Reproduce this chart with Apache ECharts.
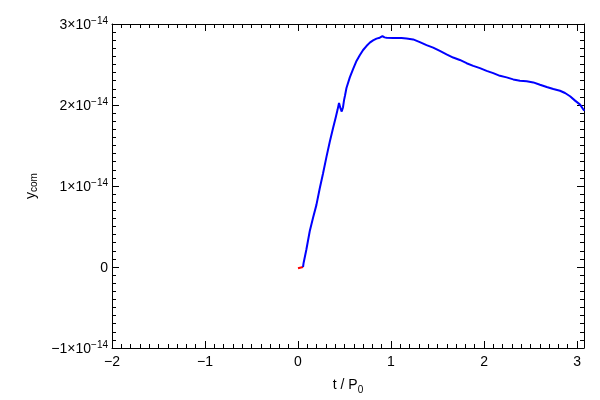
<!DOCTYPE html>
<html>
<head>
<meta charset="utf-8">
<script src="https://cdn.jsdelivr.net/npm/echarts@6/dist/echarts.min.js"></script>
<style>html,body{margin:0;padding:0;background:#fff}#c{width:600px;height:400px}</style>
</head>
<body>
<div id="c"></div>
<script>
// values of y_com are stored in units of 1e-14
const xTicks = [-2, -1, 0, 1, 2, 3];
const yTicks = [-1, 0, 1, 2, 3];
const redT = [0.0, 0.004, 0.054];
const redY = [-0.015, 0.0, 0.0];
const blueT = [0.054, 0.060, 0.090, 0.126, 0.161, 0.198, 0.234, 0.269, 0.306, 0.341, 0.377, 0.406, 0.425, 0.441, 0.456, 0.470, 0.484, 0.495, 0.506, 0.521, 0.557, 0.592, 0.629, 0.664, 0.700, 0.736, 0.772, 0.807, 0.844, 0.879, 0.908, 0.930, 0.952, 1.023, 1.113, 1.167, 1.238, 1.310, 1.382, 1.453, 1.525, 1.597, 1.668, 1.740, 1.813, 1.884, 1.956, 2.028, 2.099, 2.171, 2.243, 2.314, 2.386, 2.459, 2.530, 2.602, 2.674, 2.745, 2.817, 2.871, 2.925, 2.979, 3.033, 3.068, 3.080];
const blueY = [0.0, 0.05, 0.216, 0.441, 0.604, 0.767, 0.972, 1.155, 1.360, 1.544, 1.716, 1.850, 1.940, 2.026, 1.961, 1.919, 1.973, 2.060, 2.120, 2.210, 2.341, 2.442, 2.544, 2.614, 2.679, 2.728, 2.770, 2.798, 2.819, 2.831, 2.850, 2.835, 2.831, 2.826, 2.826, 2.822, 2.810, 2.777, 2.740, 2.708, 2.667, 2.626, 2.586, 2.556, 2.516, 2.483, 2.455, 2.422, 2.393, 2.360, 2.341, 2.316, 2.299, 2.292, 2.279, 2.250, 2.222, 2.197, 2.176, 2.148, 2.108, 2.054, 2.005, 1.944, 1.930];

const redData = redT.map((t, i) => [t, redY[i]]);
const blueData = blueT.map((t, i) => [t, blueY[i]]);

const FONT = '"Liberation Sans", Arial, sans-serif';
function xLabel(v) {
  if (!xTicks.includes(Math.round(v * 1000) / 1000)) return '';
  return v < 0 ? '\u2212' + (-v) : String(v);
}
function yLabel(v) {
  const n = Math.round(v * 1000) / 1000;
  if (!yTicks.includes(n)) return '';
  if (n === 0) return '{m|0}';
  const s = n < 0 ? '\u2212' + (-n) : String(n);
  return '{m|' + s + '\u00d710}{s|\u221214}';
}
const tickBase = { show: true, inside: true, length: 7, lineStyle: { color: '#000', width: 1 } };
const minorBase = { show: true, splitNumber: 10, length: 4, lineStyle: { color: '#000', width: 1 } };
const lineBase = { show: true, onZero: false, lineStyle: { color: '#000', width: 1 } };

const chart = echarts.init(document.getElementById('c'), null, { renderer: 'canvas' });
chart.setOption({
  animation: false,
  backgroundColor: '#fff',
  grid: { left: 112, right: 16, top: 24, bottom: 50, containLabel: false },
  xAxis: [
    {
      type: 'value', position: 'bottom', min: -2, max: 3.075, interval: 1,
      axisLine: lineBase, axisTick: tickBase, minorTick: minorBase, splitLine: { show: false },
      axisLabel: { formatter: xLabel, color: '#000', fontSize: 14, fontFamily: FONT, margin: 7, showMaxLabel: true },
      name: '{a|t / P}{b|0}', nameLocation: 'middle', nameGap: 30,
      nameTextStyle: { rich: { a: { fontSize: 14, fontFamily: FONT, color: '#000', verticalAlign: 'bottom' }, b: { fontSize: 10, fontFamily: FONT, color: '#000', verticalAlign: 'bottom', padding: [0, 0, -3, 0] } } }
    },
    {
      type: 'value', position: 'top', min: -2, max: 3.075, interval: 1,
      axisLine: lineBase, axisTick: tickBase, minorTick: minorBase, splitLine: { show: false },
      axisLabel: { show: false }
    }
  ],
  yAxis: [
    {
      type: 'value', position: 'left', min: -1, max: 3, interval: 1,
      axisLine: lineBase, axisTick: tickBase, minorTick: minorBase, splitLine: { show: false },
      axisLabel: {
        formatter: yLabel, margin: 4,
        rich: {
          m: { fontSize: 14, fontFamily: FONT, color: '#000', lineHeight: 16, verticalAlign: 'bottom' },
          s: { fontSize: 10, fontFamily: FONT, color: '#000', lineHeight: 16, verticalAlign: 'top', padding: [0, 0, 4, 0] }
        }
      },
      name: '{a|y}{b|com}', nameLocation: 'middle', nameGap: 74, nameRotate: 90,
      nameTextStyle: { rich: { a: { fontSize: 14, fontFamily: FONT, color: '#000' }, b: { fontSize: 10, fontFamily: FONT, color: '#000', padding: [0, 0, -6, 0] } } }
    },
    {
      type: 'value', position: 'right', min: -1, max: 3, interval: 1,
      axisLine: lineBase, axisTick: tickBase, minorTick: minorBase, splitLine: { show: false },
      axisLabel: { show: false }
    }
  ],
  series: [
    { type: 'line', data: redData, showSymbol: false, symbol: 'none', lineStyle: { color: '#ff0000', width: 2 }, z: 3 },
    { type: 'line', data: blueData, showSymbol: false, symbol: 'none', lineStyle: { color: '#0000ff', width: 2 }, z: 4 }
  ]
});
</script>
</body>
</html>
